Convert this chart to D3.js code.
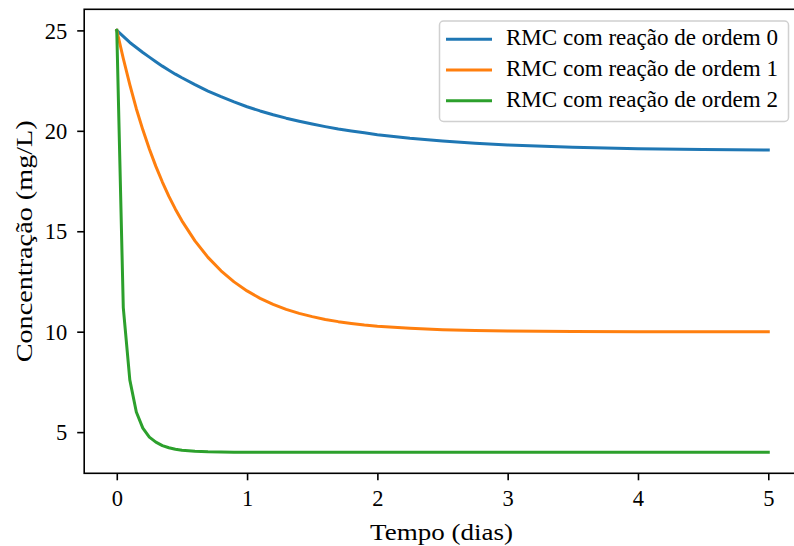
<!DOCTYPE html>
<html>
<head>
<meta charset="utf-8">
<script src="https://cdn.jsdelivr.net/npm/d3@7"></script>
<style>
  body { margin: 0; background: #fff; }
  svg { display: block; }
  text { font-family: "Liberation Serif", "DejaVu Serif", serif; fill: #000; }
</style>
</head>
<body>
<svg id="chart" width="794" height="546"></svg>
<script>
// time in days
const tempo = [0, 0.05, 0.1, 0.15, 0.2, 0.25, 0.3, 0.35, 0.4, 0.45, 0.5, 0.6, 0.7, 0.8, 0.9, 1.0,
    1.1, 1.2, 1.3, 1.4, 1.5, 1.6, 1.7, 1.8, 1.9, 2.0, 2.25, 2.5, 2.75, 3.0, 3.5, 4.0, 4.5, 5.0];

// concentration (mg/L)
const ordem0 = [25, 24.7, 24.4, 24.15, 23.9, 23.67, 23.44, 23.22, 23.02, 22.82, 22.64, 22.3, 21.98, 21.7, 21.44, 21.2,
    20.99, 20.8, 20.63, 20.48, 20.34, 20.21, 20.09, 19.99, 19.9, 19.81, 19.63, 19.49, 19.38, 19.3, 19.18, 19.11, 19.07, 19.04];
const ordem1 = [25, 23.6, 22.3, 21.1, 20.05, 19.1, 18.23, 17.45, 16.74, 16.1, 15.52, 14.52, 13.7, 13.03, 12.48, 12.03,
    11.66, 11.36, 11.11, 10.91, 10.75, 10.61, 10.5, 10.41, 10.33, 10.27, 10.17, 10.1, 10.06, 10.04, 10.01, 10.0, 10.0, 10.0];
const ordem2 = [25, 11.2, 7.6, 6.0, 5.2, 4.75, 4.5, 4.33, 4.22, 4.15, 4.1, 4.05, 4.02, 4.01, 4.0, 4.0,
    4.0, 4.0, 4.0, 4.0, 4.0, 4.0, 4.0, 4.0, 4.0, 4.0, 4.0, 4.0, 4.0, 4.0, 4.0, 4.0, 4.0, 4.0];

const seriesNames = ["RMC com reação de ordem 0", "RMC com reação de ordem 1", "RMC com reação de ordem 2"];
const seriesColors = ["#1f77b4", "#ff7f0e", "#2ca02c"];
const xTicks = [0, 1, 2, 3, 4, 5];
const yTicks = [5, 10, 15, 20, 25];

const plotLeft = 84.2, plotTop = 9.3, plotBottom = 473.3;
const unit = 130.3;
const plotRight = plotLeft + 5.5 * unit;
const fontSize = 22.5;
const serif = "'Liberation Serif', 'DejaVu Serif', serif";

const svg = d3.select("#chart");

const x = d3.scaleLinear().domain([-0.25, 5.25]).range([plotLeft, plotRight]);
const y = d3.scaleLinear().domain([2.95, 26.05]).range([plotBottom, plotTop]);

const plot = svg.append("g");

const line = d3.line()
    .x((d, i) => x(tempo[i]))
    .y(d => y(d));

[ordem0, ordem1, ordem2].forEach((vals, k) => {
    plot.append("path")
        .datum(vals)
        .attr("d", line)
        .attr("fill", "none")
        .attr("stroke", seriesColors[k])
        .attr("stroke-width", 3)
        .attr("stroke-linejoin", "round")
        .attr("stroke-linecap", "square");
});

// axes
const xAxis = d3.axisBottom(x).tickValues(xTicks).tickFormat(d3.format("d")).tickSize(7).tickPadding(10);
const yAxis = d3.axisLeft(y).tickValues(yTicks).tickFormat(d3.format("d")).tickSize(7).tickPadding(10);

const gx = svg.append("g").attr("transform", `translate(0,${plotBottom})`).call(xAxis);
const gy = svg.append("g").attr("transform", `translate(${plotLeft},0)`).call(yAxis);

[gx, gy].forEach(g => {
    g.attr("font-family", null);
    g.select(".domain").remove();
    g.selectAll(".tick line").attr("stroke", "#000").attr("stroke-width", 1.6);
    g.selectAll(".tick text")
        .style("font-family", serif)
        .attr("font-size", fontSize)
        .attr("fill", "#000");
});
gx.selectAll(".tick text").attr("dy", "0.71em");
gy.selectAll(".tick text").attr("dy", "0.34em");

// frame
svg.append("rect")
    .attr("x", plotLeft).attr("y", plotTop)
    .attr("width", plotRight - plotLeft).attr("height", plotBottom - plotTop)
    .attr("fill", "none").attr("stroke", "#000").attr("stroke-width", 1.6);

// axis labels
svg.append("text")
    .attr("x", 441.5).attr("y", 539.5)
    .attr("text-anchor", "middle")
    .attr("font-size", fontSize)
    .attr("textLength", 143)
    .attr("lengthAdjust", "spacingAndGlyphs")
    .text("Tempo (dias)");

svg.append("text")
    .attr("transform", `translate(31.5,${(plotTop + plotBottom) / 2}) rotate(-90)`)
    .attr("text-anchor", "middle")
    .attr("font-size", fontSize)
    .attr("textLength", 242)
    .attr("lengthAdjust", "spacingAndGlyphs")
    .text("Concentração (mg/L)");

// legend
const legend = svg.append("g");
legend.append("rect")
    .attr("x", 439.5).attr("y", 21)
    .attr("width", 349).attr("height", 100.5)
    .attr("rx", 4)
    .attr("fill", "#fff").attr("fill-opacity", 0.8)
    .attr("stroke", "#d0d0d0").attr("stroke-width", 1.5);

seriesNames.forEach((name, k) => {
    const ly = 39.3 + k * 30.7;
    legend.append("line")
        .attr("x1", 446).attr("x2", 492)
        .attr("y1", ly).attr("y2", ly)
        .attr("stroke", seriesColors[k]).attr("stroke-width", 3);
    legend.append("text")
        .attr("x", 506).attr("y", ly + 6)
        .attr("font-size", fontSize)
        .attr("textLength", 272)
        .attr("lengthAdjust", "spacingAndGlyphs")
        .text(name);
});
</script>
</body>
</html>
